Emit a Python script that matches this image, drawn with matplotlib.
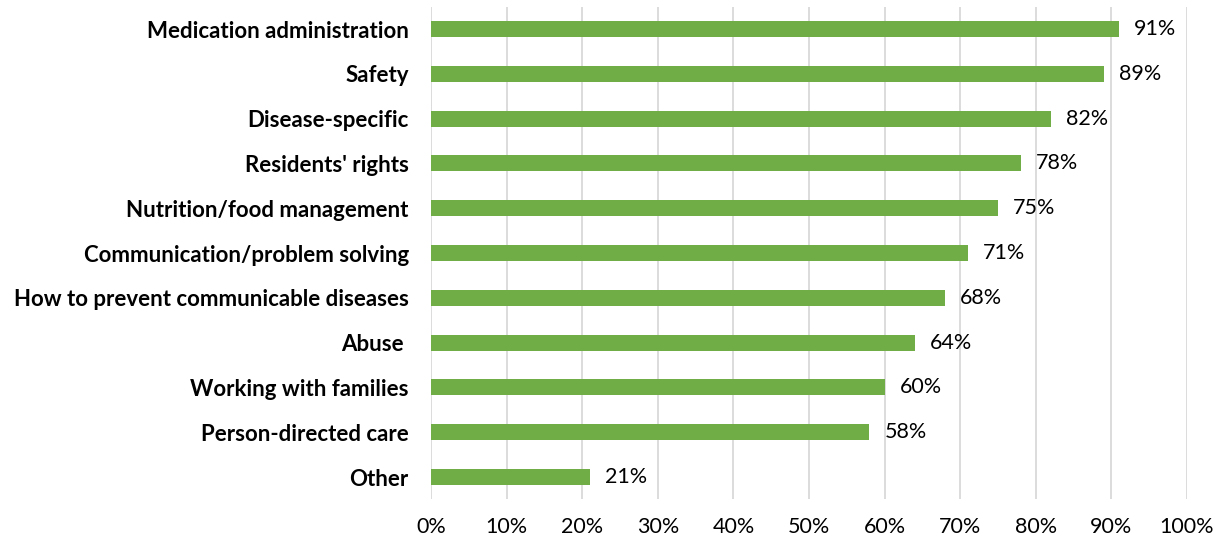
import matplotlib.pyplot as plt
from matplotlib.ticker import MultipleLocator, FuncFormatter

plt.rcParams['font.family'] = ['Lato', 'DejaVu Sans']

topics = [
    "Medication administration",
    "Safety",
    "Disease-specific",
    "Residents' rights",
    "Nutrition/food management",
    "Communication/problem solving",
    "How to prevent communicable diseases",
    "Abuse ",
    "Working with families",
    "Person-directed care",
    "Other",
]
pct = [91, 89, 82, 78, 75, 71, 68, 64, 60, 58, 21]

fig = plt.figure(figsize=(12.2, 5.44), dpi=100)
ax = fig.add_axes([431 / 1220, 1 - 499.4 / 544, 756 / 1220, 492.8 / 544])

ypos = range(len(topics))
bars = ax.barh(ypos, pct, height=0.36, color='#70AD47', zorder=3)
ax.set_ylim(len(topics) - 0.5, -0.5)
ax.set_xlim(0, 100)

ax.set_yticks(list(ypos))
ax.set_yticklabels(topics, fontsize=16, fontweight='bold', color='#000000')
ax.xaxis.set_major_locator(MultipleLocator(10))
ax.xaxis.set_major_formatter(FuncFormatter(lambda v, _: f"{v:.0f}%"))
ax.tick_params(axis='x', labelsize=15.5, length=0, pad=13, labelcolor='#000000')
ax.tick_params(axis='y', length=0, pad=16)

ax.grid(axis='x', color='#D9D9D9', linewidth=1.3, zorder=0)
for s in ax.spines.values():
    s.set_visible(False)

for b, v in zip(bars, pct):
    ax.annotate(f"{v}%", (b.get_width(), b.get_y() + b.get_height() / 2),
                xytext=(11, 0), textcoords='offset points',
                va='center', ha='left', fontsize=15.5, color='#000000')

fig.savefig('out.png', dpi=100)
